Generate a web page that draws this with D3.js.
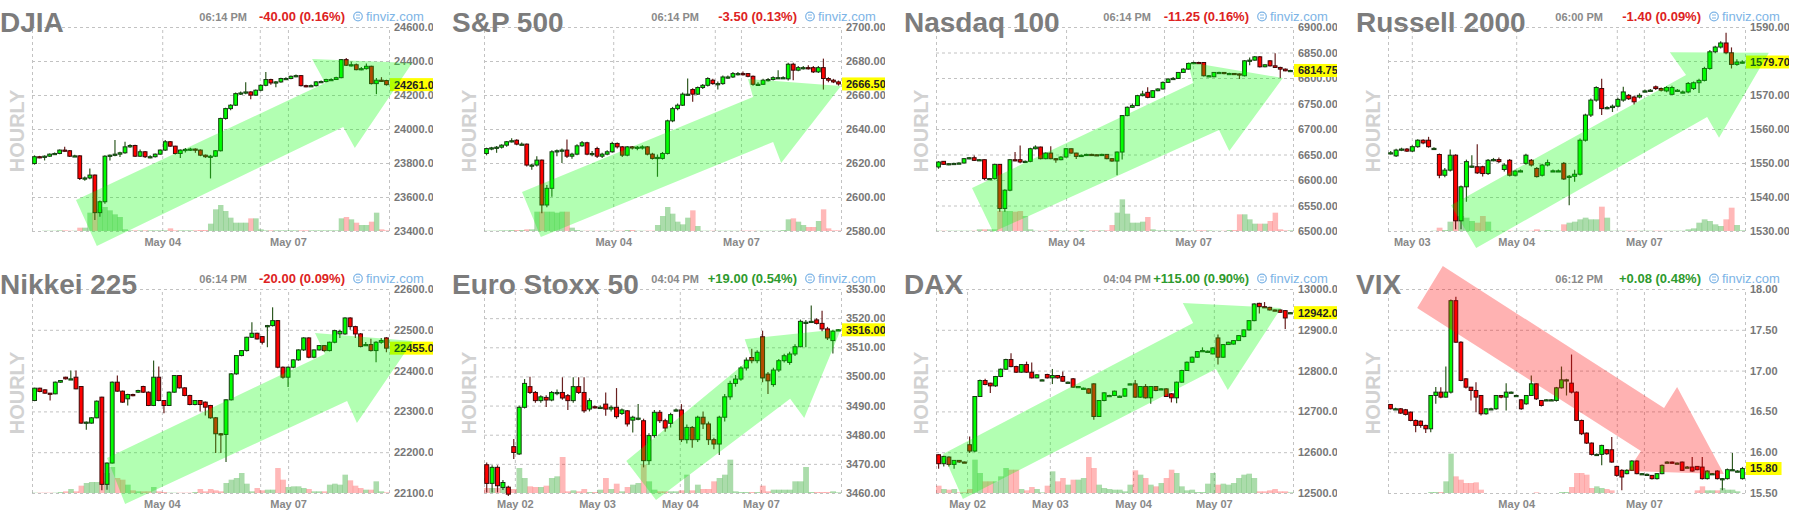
<!DOCTYPE html>
<html><head><meta charset="utf-8">
<script src="https://cdn.jsdelivr.net/npm/d3@7/dist/d3.min.js"></script>
<style>
html,body{margin:0;padding:0;background:#fff;}
svg{display:block;}
text{font-family:"Liberation Sans",Arial,Helvetica,sans-serif;}
</style></head><body>
<svg id="c" width="1794" height="523"></svg>
<script>
// ---------------- DJIA ----------------
const djiaOpen=[23797,23837,23835,23840,23852,23856,23876,23872,23840,23842,
23709,23712,23729,23508,23572,23840,23846,23852,23860,23895,
23903,23840,23866,23837,23837,23852,23876,23925,23899,23856,
23876,23880,23882,23876,23846,23837,23840,23872,24062,24120,
24140,24208,24212,24218,24199,24228,24257,24291,24271,24277,
24297,24297,24310,24314,24255,24252,24255,24277,24279,24291,
24291,24302,24408,24375,24378,24349,24355,24369,24267,24287,24285];
const djiaClose=[23837,23835,23840,23852,23856,23876,23872,23840,23842,23709,
23712,23729,23508,23572,23840,23846,23852,23860,23895,23903,
23840,23866,23837,23837,23852,23876,23925,23899,23856,23876,
23880,23882,23876,23846,23837,23840,23872,24062,24120,24140,
24208,24212,24218,24199,24228,24257,24291,24271,24277,24297,
24297,24310,24314,24255,24252,24255,24277,24279,24291,24291,
24302,24408,24375,24378,24349,24355,24369,24267,24287,24285,24261];
const djiaHigh=[23845,23842,23845,23856,23862,23880,23895,23876,23848,23846,
23720,23768,23732,23580,23846,23850,23935,23866,23925,23910,
23908,23880,23870,23845,23856,23880,23935,23930,23902,23880,
23888,23890,23886,23880,23850,23848,23876,24066,24125,24145,
24215,24220,24275,24222,24232,24262,24335,24295,24283,24302,
24305,24315,24320,24318,24260,24262,24282,24285,24296,24298,
24308,24412,24418,24395,24385,24365,24385,24372,24300,24305,24290];
const djiaLow=[23790,23828,23815,23836,23848,23852,23866,23836,23835,23700,
23695,23705,23465,23484,23560,23815,23840,23835,23855,23890,
23835,23835,23830,23828,23832,23848,23870,23895,23850,23830,
23862,23870,23860,23840,23830,23709,23835,23868,24055,24110,
24135,24200,24205,24175,24195,24222,24252,24260,24245,24272,
24290,24292,24305,24250,24245,24248,24250,24272,24275,24286,
24288,24298,24370,24368,24345,24345,24350,24262,24205,24278,24255];
const djiaVolume=[0,0,1,1,1,2,2,1,1,10,
10,55,55,65,72,62,50,42,5,2,
2,2,2,2,2,2,2,8,2,2,
2,2,2,3,3,22,65,78,60,40,
25,25,25,38,38,5,2,2,2,2,
2,2,2,2,2,2,2,2,2,2,
2,38,42,35,25,18,18,28,55,5,2];
const djiaDateAt=[25.9,45.3,50.9];
const djiaDateLabels=["May 04","","May 07"];
const djiaArrow=[[8.75,23582],[58.3,24270],[55.7,24412],[75.6,24388],[64.2,23888],[61.9,24012],[12.9,23312]];

// ---------------- S&P 500 ----------------
const spOpen=[2625.6,2628.5,2628.9,2629.3,2630.5,2632.5,2633.4,2631.1,2631.1,2618.8,
2618.8,2621.7,2595.3,2605.1,2626.6,2627.2,2627.6,2624.0,2625.2,2630.1,
2631.9,2625.2,2628.5,2624.0,2625.2,2626.6,2631.5,2629.5,2624.6,2629.5,
2629.1,2629.3,2629.5,2625.2,2622.7,2622.7,2625.6,2644.8,2652.0,2654.0,
2660.5,2663.2,2660.5,2664.4,2665.7,2668.7,2666.7,2666.7,2670.6,2670.6,
2672.6,2672.6,2672.6,2671.0,2666.3,2666.3,2668.7,2669.1,2670.2,2670.2,
2669.5,2678.1,2674.6,2676.1,2676.1,2676.1,2673.6,2676.1,2669.7,2668.7,2667.7];
const spClose=[2628.5,2628.9,2629.3,2630.5,2632.5,2633.1,2631.1,2631.1,2618.8,2618.8,
2621.7,2595.3,2605.1,2626.6,2627.2,2627.6,2624.0,2625.2,2630.1,2631.9,
2625.2,2625.6,2624.0,2625.2,2626.6,2631.5,2629.5,2624.6,2629.5,2629.1,
2629.3,2629.5,2625.2,2622.7,2623.3,2625.6,2644.8,2652.0,2654.0,2660.5,
2660.5,2660.5,2664.4,2665.7,2669.7,2666.7,2666.7,2670.6,2670.6,2672.6,
2672.6,2672.2,2671.0,2666.3,2666.3,2668.7,2669.1,2670.2,2670.2,2670.2,
2678.1,2674.6,2676.1,2676.1,2675.8,2673.6,2676.1,2669.7,2668.7,2667.7,2666.5];
const spHigh=[2629,2629.5,2630,2631,2633,2634.5,2634,2632,2631.5,2619.5,
2624,2622,2607,2627.5,2628,2628.5,2633.8,2626,2631,2633,
2632.5,2627,2629.5,2626,2627.5,2632.5,2632,2630,2630,2630,
2630,2630.5,2630,2626,2625,2626.5,2645.5,2653,2655,2661.5,
2669.7,2664,2665,2666.5,2670.5,2669.5,2668,2671.5,2671.5,2673.5,
2673.5,2673.8,2673,2671.5,2667.5,2669.5,2670,2671,2674.6,2671,
2679,2679,2677,2677,2677.5,2677,2677,2681.4,2670.5,2669.5,2668.5];
const spLow=[2624.5,2627.5,2626,2628.5,2629.5,2632,2630.5,2630.5,2618,2616,
2618,2590.4,2594,2600.2,2624,2620,2623,2622.5,2624.5,2629.5,
2624.5,2624,2623,2623,2624.5,2626,2628.5,2623.5,2624,2628,
2627.5,2628,2624.5,2622,2611.9,2622,2625,2644,2651,2653.5,
2659.5,2656,2660,2663.5,2665,2666,2663.2,2666,2669.5,2670,
2671.5,2671.5,2670.5,2665.5,2665.5,2666,2668,2668.5,2669.5,2669.5,
2668.5,2668.7,2674,2675,2675,2673,2673,2663.2,2667.5,2667,2665.5];
const spVolume=[1,1,1,2,2,3,3,3,5,5,
58,58,58,58,55,58,58,10,3,1,
1,1,1,1,1,1,1,1,3,3,
1,1,1,1,18,45,72,52,28,20,
40,62,15,1,1,1,1,1,1,1,
1,1,1,1,1,1,1,1,1,3,
35,38,28,18,12,12,30,65,8,2,2];
const spDateAt=[25.7,45.9,51.1];
const spDateLabels=["May 04","","May 07"];
const spArrow=[[7.56,2602.9],[53.5,2658.8],[52.5,2669.4],[71.0,2665.3],[59.1,2620.0],[57.5,2632.4],[11.3,2576.5]];

// ---------------- Nasdaq 100 ----------------
const ndxOpen=[6625.5,6636.6,6630.7,6632.0,6632.5,6633.3,6641.8,6643.7,6638.5,6639.8,
6602.8,6602.8,6630.7,6544.2,6580.0,6639.8,6639.8,6636.6,6636.6,6661.3,
6664.6,6641.8,6652.8,6641.8,6639.8,6645.0,6661.3,6652.8,6646.3,6648.3,
6650.2,6649.5,6648.3,6650.2,6641.8,6637.2,6654.8,6726.3,6742.6,6745.9,
6765.4,6771.9,6762.1,6775.1,6778.4,6791.4,6797.9,6799.2,6810.9,6817.4,
6828.5,6830.4,6830.4,6804.4,6802.4,6810.9,6810.9,6808.9,6808.9,6808.0,
6804.4,6833.7,6835.0,6841.5,6822.0,6833.7,6823.9,6820.7,6817.4,6814.1];
const ndxClose=[6635.3,6630.7,6632.0,6632.5,6633.3,6641.8,6643.7,6638.5,6639.8,6602.8,
6602.8,6630.7,6544.2,6580.0,6639.8,6638.5,6635.3,6636.6,6661.3,6664.6,
6641.8,6652.8,6641.8,6639.8,6645.0,6661.3,6652.8,6646.3,6648.3,6650.2,
6649.5,6648.3,6650.2,6641.8,6637.2,6654.8,6726.3,6742.6,6745.9,6765.4,
6768.6,6762.1,6775.1,6778.4,6791.4,6797.9,6799.2,6810.9,6817.4,6828.5,
6830.4,6829.8,6804.4,6804.4,6810.9,6810.9,6808.9,6808.9,6808.0,6806.3,
6833.7,6835.0,6841.5,6822.0,6825.9,6823.9,6820.7,6817.4,6814.1,6814.75];
const ndxHigh=[6637,6637.5,6633.5,6634,6635,6643,6645,6648,6641,6640.5,
6604,6632,6631.5,6582,6641,6654.8,6667.8,6638,6663,6668,
6665.5,6654,6666,6643,6646.5,6662.5,6662,6653.5,6650,6651.5,
6651.5,6650,6651.5,6651,6643,6656,6727.5,6744,6750,6767,
6775,6782,6776.5,6780,6793,6799.5,6802,6812,6819,6830,
6832,6832,6831.5,6806,6812,6812.5,6812,6810.5,6810,6809,
6835,6840,6843,6843,6827,6835,6848.6,6822,6818.5,6816];
const ndxLow=[6622,6629.5,6629,6631,6631.5,6632.5,6640.5,6637.5,6638,6600,
6601,6601,6537.7,6537.7,6578,6637,6633,6634,6635,6660,
6640.5,6640.5,6640.5,6634,6638.5,6644,6651.5,6641,6645,6647,
6648,6647,6647,6640.5,6636,6609.3,6640,6725,6741,6745,
6764,6760.5,6761,6774,6777.5,6790,6796.5,6798,6810,6816.5,
6827,6828,6803,6802.5,6801.5,6809.5,6807.5,6807,6806.5,6798,
6803,6825,6834,6820.5,6821,6822.5,6819.5,6800,6813,6812.5];
const ndxVolume=[1,1,1,1,1,1,1,1,5,5,
5,5,60,60,60,58,60,45,5,1,
1,1,2,2,1,1,1,1,3,1,
2,2,2,2,18,55,95,52,25,25,
28,42,5,2,2,2,2,2,2,1,
1,2,2,2,1,1,1,3,3,50,
50,35,22,22,22,30,55,5,2,2];
const ndxDateAt=[25.5,44.7,50.4];
const ndxDateLabels=["May 04","","May 07"];
const ndxArrow=[[7.06,6584.3],[50.4,6790.2],[49.4,6831.4],[68.0,6800.0],[57.5,6656.8],[55.5,6698.0],[11.2,6498.0]];

// ---------------- Russell 2000 ----------------
const rutOpen=[1552.8,1552.1,1553.8,1554.1,1553.5,1554.8,1556.7,1556.7,1554.3,1552.5,
1546.4,1547.9,1552.3,1533.0,1543.0,1548.9,1548.9,1548.9,1546.9,1550.8,
1551.0,1548.1,1550.8,1546.4,1547.6,1549.9,1550.8,1548.4,1546.4,1549.4,
1547.7,1547.7,1549.9,1546.1,1546.1,1546.7,1556.7,1564.1,1568.5,1571.9,
1566.3,1566.3,1566.7,1568.5,1569.9,1569.4,1569.4,1571.2,1571.4,1572.4,
1571.9,1571.2,1570.2,1571.4,1570.9,1570.9,1571.9,1573.6,1574.3,1577.8,
1582.7,1584.1,1585.3,1582.4,1579.0,1579.7];
const rutClose=[1553.0,1553.8,1554.1,1553.5,1554.8,1556.7,1555.9,1554.8,1554.3,1546.4,
1547.9,1552.3,1533.0,1543.0,1550.4,1549.1,1547.1,1546.9,1550.8,1551.0,
1550.4,1549.4,1546.4,1547.6,1547.7,1552.3,1549.4,1546.0,1549.4,1550.1,
1547.7,1547.7,1545.3,1546.1,1546.7,1556.7,1564.1,1568.5,1572.2,1566.0,
1566.3,1566.7,1568.7,1570.9,1568.9,1568.0,1569.9,1571.2,1571.4,1571.9,
1571.4,1572.2,1572.2,1571.4,1570.9,1573.4,1573.6,1574.3,1577.8,1582.7,
1584.1,1585.3,1582.4,1579.0,1579.7,1579.7];
const rutHigh=[1553.5,1554.2,1554.5,1554.4,1555.2,1557.0,1557.0,1557.7,1554.6,1552.8,
1548.5,1554.0,1552.6,1543.4,1551.0,1552.3,1555.5,1549.2,1551.2,1551.5,
1551.6,1549.9,1551.2,1548.0,1548.1,1552.7,1551.2,1548.8,1549.8,1551.0,
1548.1,1548.1,1550.3,1546.5,1548.0,1557.2,1564.5,1569.0,1572.6,1574.8,
1566.7,1567.2,1569.2,1572.4,1570.3,1569.8,1570.5,1571.6,1571.8,1572.8,
1572.2,1572.6,1572.7,1571.8,1571.3,1573.8,1574.0,1574.8,1578.3,1583.2,
1584.5,1585.8,1588.3,1584.0,1580.5,1580.2];
const rutLow=[1552.5,1551.8,1553.5,1553.2,1553.2,1554.5,1555.5,1554.5,1554.0,1545.5,
1545.8,1547.5,1530.5,1530.5,1538.6,1548.5,1546.8,1546.0,1546.5,1550.5,
1550.0,1547.5,1546.0,1546.0,1547.3,1549.5,1549.0,1545.7,1546.0,1549.0,
1547.4,1547.4,1545.0,1537.6,1544.5,1546.3,1556.3,1563.5,1568.0,1564.1,
1565.8,1565.0,1566.3,1568.0,1568.5,1567.2,1569.0,1570.8,1571.0,1571.5,
1571.0,1570.8,1570.0,1571.0,1570.5,1570.5,1571.5,1570.6,1574.0,1577.4,
1582.3,1583.7,1582.0,1577.8,1578.6,1579.3];
const rutVolume=[0,0,0,0,0,0,0,0,1,10,
3,28,45,45,40,30,25,45,28,1,
1,1,1,1,1,1,1,5,1,3,
1,1,20,25,28,35,40,35,35,73,
40,1,1,1,1,1,1,1,1,1,
1,1,1,1,1,5,8,25,35,30,
20,15,35,70,18,2];
const rutDateAt=[4.4,23.7,42.3,47.3];
const rutDateLabels=["May 03","May 04","","May 07"];
const rutArrow=[[11.65,1537.6],[55.1,1575.9],[52.1,1582.6],[70.4,1582.4],[61.2,1557.4],[59.0,1563.5],[16.3,1525.0]];

// ---------------- Nikkei 225 ----------------
const nkOpen=[22326.7,22356.9,22352.8,22344.7,22343.1,22371.6,22383.8,22379.8,22383.8,22361.0,
22271.3,22271.3,22284.3,22334.9,22121.2,22173.4,22371.6,22349.6,22330.8,22341.4,
22347.1,22361.0,22347.1,22314.5,22383.8,22326.7,22314.5,22347.1,22387.9,22357.7,
22339.0,22316.9,22326.7,22322.7,22314.5,22284.3,22245.2,22243.5,22328.4,22392.0,
22436.9,22449.1,22481.7,22491.5,22483.4,22507.8,22510.3,22522.5,22408.3,22383.8,
22408.3,22426.3,22450.7,22480.1,22432.8,22450.7,22461.3,22449.1,22469.5,22490,
22489.9,22529.0,22507.8,22489.9,22463.8,22463.8,22449.1,22469.5,22480.1];
const nkClose=[22356.9,22348.8,22344.7,22343.1,22371.6,22375.7,22379.8,22379.8,22355.3,22271.3,
22273.7,22284.3,22325.1,22121.2,22173.4,22371.6,22349.6,22322.7,22341.4,22339.0,
22351.2,22347.1,22314.5,22383.8,22326.7,22314.5,22347.1,22387.9,22357.7,22339.0,
22316.9,22326.7,22316.9,22310.4,22284.3,22245.2,22243.5,22328.4,22392.0,22436.9,
22449.1,22481.7,22491.5,22477.6,22469.5,22510.3,22522.5,22408.3,22383.8,22408.3,
22426.3,22450.7,22480.1,22432.8,22450.7,22461.3,22449.1,22469.5,22498.0,22496,
22529.0,22507.8,22489.9,22458.9,22463.8,22449.1,22469.5,22473.6,22455.0];
const nkHigh=[22358,22358,22354,22345,22373,22377,22385,22400.2,22400.2,22362,
22275,22286,22327,22336,22175,22373,22387.9,22351,22343,22343,
22353,22363,22349,22424.6,22409.9,22328,22349,22389.5,22389,22359,
22341,22328,22328,22324,22316,22286,22247,22330,22394,22438,
22450.5,22483,22518.4,22493,22485,22512,22555.1,22524,22410,22410,
22428,22452,22482,22482,22452,22463,22463,22471,22500,22500,
22530.5,22530.5,22510,22492,22470,22478,22472,22480,22482];
const nkLow=[22325,22347,22343,22326.7,22342,22370,22378,22378,22354,22270,
22254.9,22270,22283,22106.5,22108.1,22172,22348,22321,22314.5,22337,
22345,22345,22313,22313,22325,22295.7,22313,22345.5,22356,22337,
22315,22315,22300,22290,22282,22197.9,22197.9,22175.8,22326.7,22390,
22435,22447,22480,22476,22464,22457.3,22508,22406,22380,22360,
22406,22424,22448,22430,22430,22449,22446,22447,22467,22480,
22488,22500,22480,22457,22460,22447,22420.5,22466,22445];
const nkVolume=[1,1,1,1,1,3,5,12,5,22,
30,33,33,35,60,78,45,40,25,8,
5,5,5,18,5,3,1,1,1,1,
1,3,12,5,12,8,5,30,40,45,
60,28,5,15,8,10,10,75,40,18,
20,20,15,12,5,5,5,25,28,25,
55,38,22,15,10,10,35,5,2];
const nkDateAt=[25.1,44.1,49.5];
const nkDateLabels=["May 04","","May 07"];
const nkArrow=[[14.5,22185.8],[56.6,22440.7],[54.7,22492.2],[73.6,22472.5],[62.8,22271.6],[60.9,22325.5],[18.0,22073.0]];

// ---------------- Euro Stoxx 50 ----------------
const sxOpen=[3469.7,3463.3,3468.8,3461.9,3462.0,3475.9,3473.4,3489.4,3496.5,3494.5,
3491.7,3492.8,3491.9,3494.5,3494.5,3493.4,3491.7,3496.5,3494.5,3488.8,
3489.6,3489.4,3490.5,3488.8,3489.4,3487.3,3488.2,3485.0,3485.7,3484.8,
3471.1,3479.7,3487.7,3484.8,3483.9,3488.5,3488.5,3478.3,3482.5,3478.3,
3486.0,3483.7,3478.3,3476.8,3486.0,3493.0,3497.6,3499.1,3502.9,3506.5,
3505.4,3513.6,3500.8,3497.2,3502.2,3505.4,3504.8,3507.7,3510.2,3518.6,
3518.9,3519.4,3518.2,3516.3,3512.3,3516.0];
const sxClose=[3463.3,3468.8,3462.5,3463.6,3459.6,3473.9,3489.4,3497.6,3494.5,3491.7,
3493.0,3491.9,3494.5,3494.5,3492.6,3491.7,3496.5,3494.5,3488.2,3491.7,
3489.4,3489.4,3488.8,3489.4,3486.2,3488.5,3483.7,3486.0,3485.7,3471.1,
3479.7,3487.7,3484.8,3482.3,3486.9,3488.5,3478.3,3482.5,3478.3,3486.0,
3483.7,3478.3,3476.8,3486.0,3493.0,3497.6,3499.1,3502.9,3505.6,3505.4,
3508.3,3499.5,3498.5,3502.2,3505.4,3507.1,3507.7,3510.2,3518.9,3518.6,
3518.9,3518.2,3516.3,3513.2,3515.5,3516.0];
const sxHigh=[3470.5,3469.5,3469.5,3464.5,3462.5,3478.5,3490.0,3499.1,3499.9,3495.0,
3493.5,3493.5,3495.0,3495.5,3499.7,3494.0,3499.7,3499.7,3499.7,3492.5,
3490.0,3490.0,3494.5,3490.0,3496.0,3489.0,3488.5,3486.5,3490.5,3485.5,
3480.5,3488.5,3488.5,3485.5,3487.5,3489.0,3490.5,3483.5,3483.0,3486.5,
3488.0,3484.5,3479.0,3486.5,3494.0,3498.5,3500.5,3503.5,3506.5,3509.5,
3509.0,3515.7,3501.5,3503.0,3506.0,3507.8,3508.5,3511.0,3519.5,3519.4,
3524.3,3520.0,3522.5,3517.0,3516.0,3516.3];
const sxLow=[3460.2,3460.2,3460.2,3461.0,3459.0,3471.7,3473.0,3489.0,3494.0,3491.0,
3491.0,3489.5,3491.5,3493.5,3492.0,3488.5,3491.0,3494.0,3487.5,3488.0,
3489.0,3489.0,3486.5,3488.0,3485.5,3486.8,3482.8,3480.8,3485.0,3468.8,
3469.7,3479.0,3484.0,3481.0,3482.5,3488.0,3477.5,3477.0,3475.5,3477.5,
3482.0,3476.5,3475.0,3473.0,3484.5,3492.0,3496.5,3498.5,3502.0,3504.5,
3504.5,3498.0,3494.0,3496.5,3501.5,3504.8,3504.0,3507.0,3510.0,3510.0,
3518.5,3517.8,3515.5,3512.5,3507.9,3515.7];
const sxVolume=[15,15,15,15,12,12,75,45,20,18,
18,22,45,50,108,5,8,5,12,3,
3,10,45,12,28,5,18,25,30,85,
35,10,5,5,5,5,8,55,8,25,
12,12,35,45,55,100,5,3,3,3,
3,22,5,10,10,10,10,35,35,78,
3,3,3,3,5,2];
const sxDateAt=[5.7,20.9,36.2,51.2];
const sxDateLabels=["May 02","May 03","May 04","May 07"];
const sxArrow=[[26.3,3471.0],[49.4,3506.3],[48.2,3512.8],[66.0,3516.3],[59.2,3485.7],[56.6,3492.3],[31.8,3457.6]];

// ---------------- DAX ----------------
const daxOpen=[12593.8,12571.8,12588.1,12570.1,12579.9,12576.0,12618.3,12602.8,12736.5,12775.7,
12769.2,12762.6,12785.5,12803.4,12827.1,12809.9,12796.1,12814.8,12796.1,12782.2,
12777.3,12790.4,12782.2,12787.9,12785.5,12771.6,12779.8,12761.0,12756.9,12755.3,
12767.5,12687.6,12726.7,12739.0,12739.0,12737.3,12737.3,12767.5,12767.5,12734.9,
12761.0,12733.3,12761.0,12755.3,12755.3,12743.1,12733.3,12771.6,12800.2,12820.5,
12832.8,12849.1,12847.5,12840.9,12880.1,12832.8,12863.8,12865.0,12873.6,12883.4,
12899.7,12922.5,12964.8,12956.7,12955.0,12948.6,12948.6,12947.0,12942.0];
const daxClose=[12571.8,12589.7,12570.1,12579.9,12576.0,12575.5,12602.8,12736.5,12775.7,12765.9,
12762.6,12785.5,12803.4,12827.1,12809.9,12796.1,12814.8,12796.1,12782.2,12789.6,
12777.3,12782.2,12787.9,12782.2,12774.0,12771.6,12759.4,12761.0,12756.9,12744.7,
12687.6,12726.7,12745.5,12739.0,12749.6,12737.3,12755.3,12767.5,12734.9,12761.0,
12733.3,12761.0,12751.2,12755.3,12736.5,12733.3,12771.6,12800.2,12820.5,12832.8,
12846.6,12849.1,12847.5,12855.6,12832.8,12863.8,12869.5,12873.6,12885.8,12899.7,
12922.5,12963.3,12956.7,12955.0,12948.6,12947.0,12942.9,12929.0,12942.0];
const daxHigh=[12595,12591,12590,12581,12580.5,12577,12638.6,12738,12778,12780,
12770.5,12787,12805,12829,12842.6,12812,12816,12822,12820,12791,
12778.5,12792,12804,12789,12798,12773,12782,12762.5,12758.5,12757,
12769,12728,12747,12741,12751,12739,12757,12768.5,12777,12762.5,
12767,12762.5,12762.5,12757,12757,12745,12773,12802,12822,12834.5,
12848,12857,12849,12857,12888.2,12865,12871,12875,12887,12901,
12924,12965,12966,12968,12956.5,12950,12950,12948.5,12943];
const daxLow=[12559.5,12565,12565,12559.5,12574,12574.5,12597.9,12600,12735,12764,
12745,12760,12784,12802,12808,12794,12795,12794.5,12780.5,12781,
12776,12780.5,12767,12780.5,12772.5,12770,12758,12759.5,12755,12743,
12679.4,12686,12725,12737.5,12737.5,12735.5,12736,12766.5,12733.3,12733.5,
12731.5,12719,12749.5,12753.5,12735,12722,12720,12770,12799,12819,
12831.5,12847.5,12846,12840,12814.8,12831.5,12862.5,12864,12872.5,12882,
12898.5,12921,12940,12954,12947,12945.5,12941.5,12902.1,12941];
const daxVolume=[22,12,10,12,2,2,12,100,60,35,
35,35,50,75,70,70,12,8,18,12,
2,22,65,35,45,25,40,40,45,108,
75,25,15,12,10,10,5,25,68,55,
45,25,20,30,45,70,60,20,8,10,
3,3,28,60,25,28,25,30,45,55,
58,45,5,5,8,12,5,5,2];
const daxDateAt=[6.0,22.0,38.1,53.7];
const daxDateLabels=["May 02","May 03","May 04","May 07"];
const daxArrow=[[1.35,12595.6],[49.7,12916.7],[47.7,12965.7],[66.7,12953.4],[56.4,12752.4],[54.1,12803.9],[5.2,12485.3]];

// ---------------- VIX ----------------
const vixOpen=[16.585,16.532,16.532,16.520,16.491,16.389,16.381,16.328,16.287,16.695,
16.736,16.675,16.736,17.857,17.348,16.899,16.797,16.756,16.695,16.471,
16.532,16.532,16.695,16.675,16.736,16.695,16.642,16.593,16.695,16.838,
16.634,16.642,16.642,16.634,16.789,16.887,16.846,16.736,16.389,16.234,
16.112,15.973,15.973,16.030,16.030,15.826,15.778,15.737,15.778,15.892,
15.737,15.729,15.716,15.676,15.737,15.879,15.879,15.867,15.879,15.818,
15.818,15.826,15.818,15.676,15.737,15.769,15.676,15.676,15.786,15.769,15.676];
const vixClose=[16.532,16.532,16.479,16.463,16.389,16.328,16.328,16.287,16.695,16.736,
16.675,16.736,17.857,17.348,16.879,16.797,16.756,16.675,16.471,16.532,
16.532,16.695,16.675,16.736,16.736,16.695,16.532,16.695,16.838,16.654,
16.573,16.642,16.642,16.789,16.887,16.887,16.736,16.389,16.226,16.112,
15.973,15.973,16.083,15.981,15.879,15.716,15.696,15.778,15.892,15.737,
15.737,15.729,15.676,15.737,15.839,15.879,15.867,15.867,15.778,15.818,
15.769,15.786,15.676,15.769,15.737,15.676,15.676,15.786,15.786,15.769,15.80];
const vixHigh=[16.59,16.545,16.54,16.53,16.50,16.40,16.39,16.335,16.70,16.80,
16.797,17.050,17.87,17.906,17.36,16.91,16.80,16.858,16.70,16.54,
16.545,16.70,16.70,16.846,16.745,16.705,16.65,16.70,16.940,16.845,
16.64,16.65,16.65,16.80,17.050,16.90,17.197,16.745,16.40,16.24,
16.12,15.985,16.09,16.04,16.185,15.835,15.79,15.79,15.90,15.90,
15.745,15.74,15.72,15.745,15.85,15.89,15.885,15.875,15.885,15.83,
15.941,15.83,15.941,15.78,15.745,15.78,15.685,15.80,15.990,15.78,15.82];
const vixLow=[16.525,16.52,16.47,16.45,16.38,16.246,16.30,16.234,16.246,16.593,
16.66,16.67,16.72,17.34,16.87,16.78,16.634,16.491,16.45,16.46,
16.52,16.52,16.66,16.512,16.725,16.685,16.52,16.58,16.69,16.64,
16.56,16.63,16.63,16.62,16.78,16.695,16.72,16.38,16.21,16.10,
15.96,15.96,15.839,15.97,15.87,15.70,15.533,15.73,15.77,15.73,
15.73,15.72,15.665,15.665,15.73,15.87,15.86,15.86,15.77,15.81,
15.76,15.78,15.665,15.665,15.73,15.665,15.533,15.665,15.77,15.76,15.665];
const vixVolume=[0,0,0,0,0,0,0,0,3,3,
3,35,118,50,40,30,30,32,10,0,
0,0,0,0,0,0,0,0,0,2,
0,0,0,0,3,3,18,60,60,55,
15,20,15,12,8,0,0,0,0,0,
0,0,0,0,0,0,0,0,0,0,
0,8,20,8,8,8,15,10,10,5,0];
const vixDateAt=[25.5,45.5,50.9];
const vixDateLabels=["May 04","","May 07"];
const vixArrow=[[10.9,18.282],[54.9,16.542],[57.5,16.799],[66.8,15.733],[47.7,15.770],[50.3,16.015],[5.8,17.767]];

// ---------------- panel headers ----------------
const titles=["DJIA","S&P 500","Nasdaq 100","Russell 2000","Nikkei 225","Euro Stoxx 50","DAX","VIX"];
const times=["06:14 PM","06:14 PM","06:14 PM","06:00 PM","06:14 PM","04:04 PM","04:04 PM","06:12 PM"];
const changes=["-40.00 (0.16%)","-3.50 (0.13%)","-11.25 (0.16%)","-1.40 (0.09%)","-20.00 (0.09%)","+19.00 (0.54%)","+115.00 (0.90%)","+0.08 (0.48%)"];
const lastPrices=[24261,2666.5,6814.75,1579.7,22455,3516,12942,15.8];
const yMins=[23400,2580,6500,1530,22100,3460,12500,15.5];
const yMaxs=[24600,2700,6900,1590,22600,3530,13000,18.0];
const ySteps=[200,20,50,10,100,10,100,0.5];
const arrowDirs=["up","up","up","up","up","up","up","down"];

const panels=[
 {o:djiaOpen,h:djiaHigh,l:djiaLow,c:djiaClose,v:djiaVolume,dAt:djiaDateAt,dLab:djiaDateLabels,arrow:djiaArrow},
 {o:spOpen,h:spHigh,l:spLow,c:spClose,v:spVolume,dAt:spDateAt,dLab:spDateLabels,arrow:spArrow},
 {o:ndxOpen,h:ndxHigh,l:ndxLow,c:ndxClose,v:ndxVolume,dAt:ndxDateAt,dLab:ndxDateLabels,arrow:ndxArrow},
 {o:rutOpen,h:rutHigh,l:rutLow,c:rutClose,v:rutVolume,dAt:rutDateAt,dLab:rutDateLabels,arrow:rutArrow},
 {o:nkOpen,h:nkHigh,l:nkLow,c:nkClose,v:nkVolume,dAt:nkDateAt,dLab:nkDateLabels,arrow:nkArrow},
 {o:sxOpen,h:sxHigh,l:sxLow,c:sxClose,v:sxVolume,dAt:sxDateAt,dLab:sxDateLabels,arrow:sxArrow},
 {o:daxOpen,h:daxHigh,l:daxLow,c:daxClose,v:daxVolume,dAt:daxDateAt,dLab:daxDateLabels,arrow:daxArrow},
 {o:vixOpen,h:vixHigh,l:vixLow,c:vixClose,v:vixVolume,dAt:vixDateAt,dLab:vixDateLabels,arrow:vixArrow}
];

// ---------------- drawing ----------------
const FONT='"Liberation Sans",Arial,Helvetica,sans-serif';
const svg=d3.select("#c");
svg.append("defs").append("clipPath").attr("id","pclip")
  .append("rect").attr("x",0).attr("y",0).attr("width",437).attr("height",262);

const PL=36,PR=393,PT=27,PB=231;
const vy=d3.scaleLinear().domain([0,120]).range([0,40]);

panels.forEach((p,k)=>{
  const col=k%4,row=Math.floor(k/4);
  const g=svg.append("g").attr("transform",`translate(${-4+col*452},${row*262})`);
  const inner=g.append("g").attr("clip-path","url(#pclip)");
  const n=p.c.length;
  const x=d3.scaleLinear().domain([0,n]).range([PL,PR]);
  const y=d3.scaleLinear().domain([yMins[k],yMaxs[k]]).range([PB,PT]);
  const step=(PR-PL)/n;
  const ticks=d3.range(yMins[k],yMaxs[k]+ySteps[k]/2,ySteps[k]);

  // HOURLY
  inner.append("text").attr("transform","translate(28,131) rotate(-90)")
    .attr("text-anchor","middle").attr("font-size",20).attr("font-weight","bold")
    .attr("fill","#d2d2d2").attr("font-family",FONT).text("HOURLY");

  // grid
  const yGrid=inner.append("g").attr("transform",`translate(${PL},0)`)
    .call(d3.axisLeft(y).tickValues(ticks).tickSize(-(PR-PL)).tickFormat(""));
  yGrid.select(".domain").remove();
  yGrid.selectAll("line").attr("stroke","#c2c2c2").attr("stroke-dasharray","3,3");
  const xGrid=inner.append("g").attr("transform",`translate(0,${PB})`)
    .call(d3.axisBottom(x).tickValues([0,...p.dAt,n]).tickSize(-(PB-PT)).tickFormat(""));
  xGrid.select(".domain").remove();
  xGrid.selectAll("line").attr("stroke","#c2c2c2").attr("stroke-dasharray","3,3");

  const idx=d3.range(n);
  const up=i=>p.c[i]>=p.o[i];

  // volume
  inner.append("g").selectAll("rect").data(idx).join("rect")
    .attr("x",i=>x(i)).attr("width",step+0.4)
    .attr("y",i=>PB-vy(p.v[i])).attr("height",i=>vy(p.v[i]))
    .attr("fill",i=>up(i)?"rgba(0,150,0,0.33)":"rgba(255,0,0,0.28)");

  // candles
  const cw=Math.max(2,step*0.74);
  const cg=inner.append("g");
  cg.selectAll("line").data(idx).join("line")
    .attr("x1",i=>x(i+0.5)).attr("x2",i=>x(i+0.5))
    .attr("y1",i=>y(p.h[i])).attr("y2",i=>y(p.l[i]))
    .attr("stroke",i=>up(i)?"#2f5a22":"#6a2020").attr("stroke-width",1.2);
  cg.selectAll("rect").data(idx).join("rect")
    .attr("x",i=>x(i+0.5)-cw/2).attr("width",cw)
    .attr("y",i=>y(Math.max(p.o[i],p.c[i])))
    .attr("height",i=>Math.max(1.2,Math.abs(y(p.o[i])-y(p.c[i]))))
    .attr("fill",i=>up(i)?"#00ff00":"#ff0000")
    .attr("stroke",i=>up(i)?"#163a12":"#3c0808").attr("stroke-width",1);

  // y labels
  const yAx=inner.append("g").attr("transform",`translate(${PR},0)`)
    .call(d3.axisRight(y).tickValues(ticks).tickSize(0).tickPadding(5).tickFormat(d3.format(".2f")));
  yAx.select(".domain").remove();
  yAx.attr("font-family",FONT).attr("font-size",11).attr("font-weight","bold");
  yAx.selectAll("text").attr("fill","#777");

  // x labels
  const lbl=p.dAt.map((d,i)=>({d:d,l:p.dLab[i]})).filter(o=>o.l);
  const xAx=inner.append("g").attr("transform",`translate(0,${PB})`)
    .call(d3.axisBottom(x).tickValues(lbl.map(o=>o.d)).tickSize(0).tickPadding(7).tickFormat((d,i)=>lbl[i].l));
  xAx.select(".domain").remove();
  xAx.attr("font-family",FONT).attr("font-size",11).attr("font-weight","bold");
  xAx.selectAll("text").attr("fill","#888");

  // last price box
  const ly=y(lastPrices[k]);
  const lt=inner.append("text").attr("x",398).attr("y",ly).attr("dy","0.36em")
    .attr("font-size",11).attr("font-weight","bold").attr("font-family",FONT)
    .attr("fill","#222").text(d3.format(".2f")(lastPrices[k]));
  const tw=lt.node().getComputedTextLength();
  inner.insert("rect",()=>lt.node()).attr("x",394).attr("y",ly-6.5)
    .attr("width",tw+8).attr("height",13).attr("fill","#ffff00");

  // title
  inner.append("text").attr("x",4).attr("y",32).attr("font-size",28).attr("font-weight","bold")
    .attr("font-family",FONT).attr("fill","#7c7c7c").text(titles[k]);

  // header
  inner.append("text").attr("x",251).attr("y",21).attr("text-anchor","end")
    .attr("font-size",11).attr("font-weight","bold").attr("font-family",FONT)
    .attr("fill","#8a8a8a").text(times[k]);
  const pos=changes[k].startsWith("+");
  inner.append("text").attr("x",349).attr("y",21).attr("text-anchor","end")
    .attr("font-size",13).attr("font-weight","bold").attr("font-family",FONT)
    .attr("fill",pos?"#2e9a2e":"#dd2222").text(changes[k]);
  inner.append("circle").attr("cx",362).attr("cy",16.5).attr("r",4.3)
    .attr("fill","none").attr("stroke","#7db4e6").attr("stroke-width",1.2);
  inner.append("path").attr("d","M360,15 h4 M360,18 h4").attr("stroke","#7db4e6").attr("stroke-width",1);
  inner.append("text").attr("x",370).attr("y",21)
    .attr("font-size",13).attr("font-family",FONT)
    .attr("fill","#7db4e6").text("finviz.com");

  // trend arrow
  const line=d3.line().x(d=>x(d[0])).y(d=>y(d[1]));
  inner.append("path").attr("d",line(p.arrow)+"Z")
    .attr("fill",arrowDirs[k]==="up"?"rgba(0,255,0,0.3)":"rgba(255,0,0,0.3)");
});
</script>
</body></html>
